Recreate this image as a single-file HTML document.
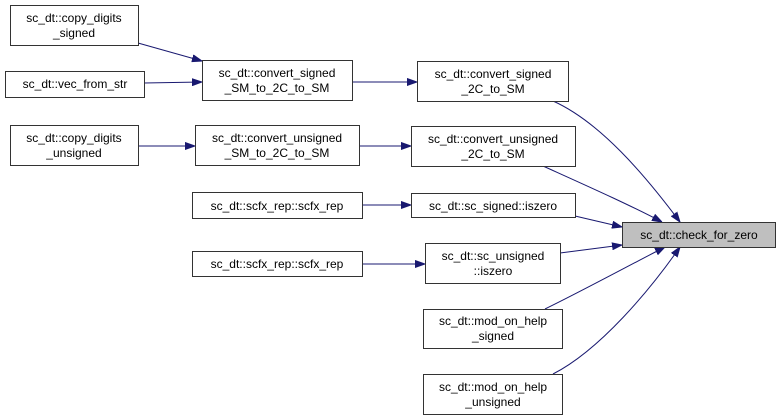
<!DOCTYPE html>
<html><head><meta charset="utf-8"><style>
html,body{margin:0;padding:0;background:#fff;width:779px;height:420px;overflow:hidden}
svg text{font-family:"Liberation Sans",Arial,sans-serif;font-size:12px;fill:#000;text-anchor:middle}
</style></head><body>
<svg width="779" height="420" viewBox="0 0 779 420" xmlns="http://www.w3.org/2000/svg">
<defs><marker id="a" markerWidth="10" markerHeight="8" refX="10" refY="4" orient="auto" markerUnits="userSpaceOnUse"><path d="M0,0.5 L10,4 L0,7.5 z" fill="#191970" stroke="#191970"/></marker></defs>
<g fill="none" stroke="#191970" stroke-width="1" marker-end="url(#a)">
<path d="M138,43 L202,61"/>
<path d="M144,83 L202,82"/>
<path d="M352,82 L417,82"/>
<path d="M138,146 L195,146"/>
<path d="M359,146 L411,146"/>
<path d="M362,205 L411,205"/>
<path d="M363,264 L425,264"/>
<path d="M553,101 C600,122 645,175 680,222"/>
<path d="M543,166 C585,185 630,205 662,222"/>
<path d="M575,216 L622,227"/>
<path d="M560,253 L622,245"/>
<path d="M545,309 C580,292 630,265 665,247"/>
<path d="M553,374 C600,350 650,290 680,247"/>
</g>
<g fill="#fff" stroke="#333" stroke-width="1">
<rect x="10.5" y="5.5" width="128" height="40"/>
<rect x="5.5" y="71.5" width="139" height="26"/>
<rect x="202.5" y="60.5" width="150" height="40"/>
<rect x="10.5" y="125.5" width="128" height="40"/>
<rect x="195.5" y="125.5" width="164" height="40"/>
<rect x="192.5" y="192.5" width="170" height="26"/>
<rect x="192.5" y="251.5" width="170" height="25"/>
<rect x="417.5" y="61.5" width="151" height="40"/>
<rect x="411.5" y="126.5" width="164" height="40"/>
<rect x="411.5" y="193.5" width="164" height="24"/>
<rect x="425.5" y="243.5" width="135" height="40"/>
<rect x="423.5" y="309.5" width="139" height="39"/>
<rect x="423.5" y="374.5" width="139" height="40"/>
<rect x="622.5" y="222.5" width="153" height="25" fill="#bfbfbf"/>
</g>
<text x="74" y="22">sc_dt::copy_digits</text><text x="74" y="37">_signed</text>
<text x="75" y="88">sc_dt::vec_from_str</text>
<text x="277" y="77">sc_dt::convert_signed</text><text x="277" y="92">_SM_to_2C_to_SM</text>
<text x="74" y="142">sc_dt::copy_digits</text><text x="74" y="157">_unsigned</text>
<text x="277" y="142">sc_dt::convert_unsigned</text><text x="277" y="157">_SM_to_2C_to_SM</text>
<text x="277" y="210">sc_dt::scfx_rep::scfx_rep</text>
<text x="277" y="268">sc_dt::scfx_rep::scfx_rep</text>
<text x="493" y="78">sc_dt::convert_signed</text><text x="493" y="93">_2C_to_SM</text>
<text x="493" y="143">sc_dt::convert_unsigned</text><text x="493" y="158">_2C_to_SM</text>
<text x="493" y="210">sc_dt::sc_signed::iszero</text>
<text x="493" y="260">sc_dt::sc_unsigned</text><text x="493" y="275">::iszero</text>
<text x="493" y="325">sc_dt::mod_on_help</text><text x="493" y="340">_signed</text>
<text x="493" y="391">sc_dt::mod_on_help</text><text x="493" y="406">_unsigned</text>
<text x="699" y="239">sc_dt::check_for_zero</text>
</svg>
</body></html>
